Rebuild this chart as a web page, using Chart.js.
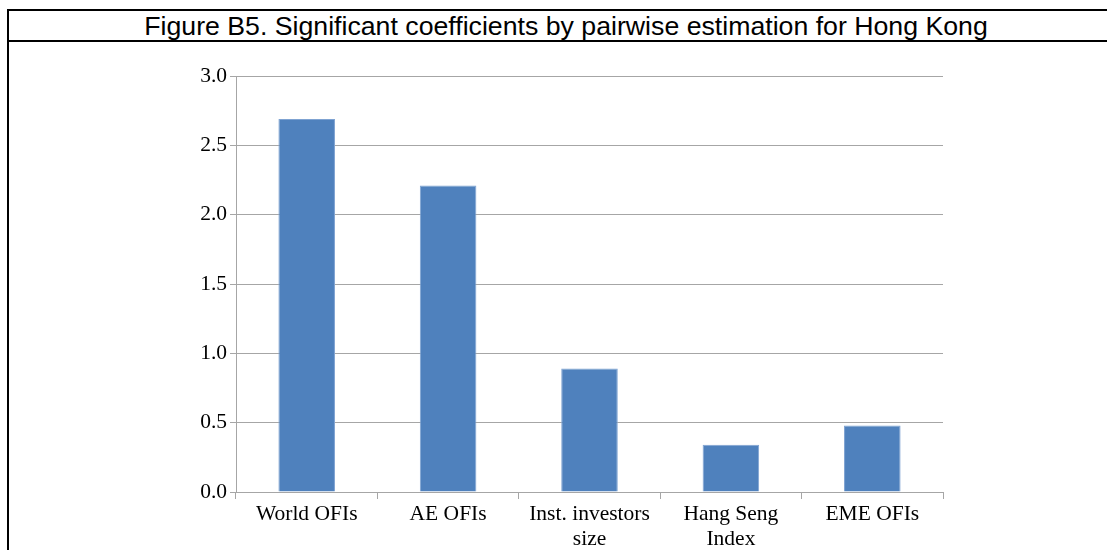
<!DOCTYPE html>
<html>
<head>
<meta charset="utf-8">
<script src="https://cdn.jsdelivr.net/npm/chart.js@4"></script>
<style>
  html, body { margin: 0; padding: 0; background: #fff; }
  #wrap { position: relative; width: 1107px; height: 550px; overflow: hidden; }
  #frame {
    position: absolute; left: 7px; top: 9px; width: 1120px; height: 560px;
    border-left: 2px solid #000; border-top: 2px solid #000;
  }
  #title {
    position: absolute; left: 7px; top: 11px; width: 1118px; height: 29px;
    border-bottom: 2px solid #000;
    font-family: "Liberation Sans", Arial, sans-serif; font-size: 26.7px;
    line-height: 31px; text-align: center; color: #000; white-space: nowrap;
  }
  canvas { position: absolute; left: 0; top: 0; }
</style>
</head>
<body>
<div id="wrap">
  <div id="frame"></div>
  <div id="title">Figure B5. Significant coefficients by pairwise estimation for Hong Kong</div>
  <canvas id="chart" width="1107" height="550"></canvas>
</div>
<script>
// categories and coefficient values
const categories = ['World OFIs', 'AE OFIs', ['Inst. investors', 'size'], ['Hang Seng', 'Index'], 'EME OFIs'];
const coefficients = [2.69, 2.21, 0.89, 0.34, 0.48];
const yTicks = [0, 0.5, 1.0, 1.5, 2.0, 2.5, 3.0];

const gridGray = '#a6a6a6';
const tickFont = { family: '"Liberation Serif", "Times New Roman", serif', size: 21.5 };

new Chart(document.getElementById('chart'), {
    type: 'bar',
    data: {
        labels: categories,
        datasets: [{
            data: coefficients,
            backgroundColor: '#4f81bd',
            borderColor: '#7fa3d2',
            borderWidth: 1,
            barPercentage: 0.4,
            categoryPercentage: 1.0
        }]
    },
    options: {
        responsive: false,
        animation: false,
        layout: { padding: { top: 76, right: 164, left: 0, bottom: 0 } },
        plugins: { legend: { display: false }, tooltip: { enabled: false } },
        scales: {
            x: {
                grid: { drawOnChartArea: false, drawTicks: true, tickLength: 7, color: gridGray },
                border: { color: gridGray, width: 1 },
                ticks: { color: '#000', font: tickFont, padding: 2, maxRotation: 0 },
                afterFit: (s) => { s.height = 58; }
            },
            y: {
                min: 0,
                max: 3,
                afterBuildTicks: (s) => { s.ticks = yTicks.map(v => ({ value: v })); },
                grid: { color: gridGray, tickLength: 6 },
                border: { color: gridGray, width: 1 },
                ticks: {
                    color: '#000', font: tickFont, padding: 3,
                    callback: (v) => v.toFixed(1)
                },
                afterFit: (s) => { s.width = 236; }
            }
        }
    }
});
</script>
</body>
</html>
